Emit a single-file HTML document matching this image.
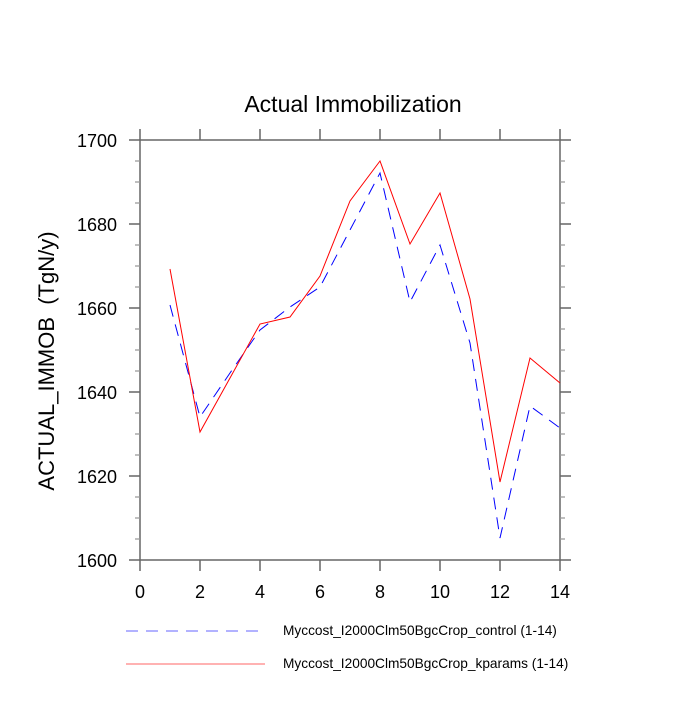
<!DOCTYPE html>
<html><head><meta charset="utf-8"><style>body{margin:0;background:#fff}</style></head><body>
<svg width="700" height="700" xmlns="http://www.w3.org/2000/svg" font-family="Liberation Sans, sans-serif">
<rect width="700" height="700" fill="#fff"/>
<text x="353" y="112" font-size="23" text-anchor="middle">Actual Immobilization</text>
<g stroke="#666" stroke-width="1.5" fill="none">
<rect x="140" y="140" width="420" height="420"/>
<path d="M140 560v11M200 560v11M260 560v11M320 560v11M380 560v11M440 560v11M500 560v11M560 560v11
M140 140v-11M200 140v-11M260 140v-11M320 140v-11M380 140v-11M440 140v-11M500 140v-11M560 140v-11
M140 140h-11M140 224h-11M140 308h-11M140 392h-11M140 476h-11M140 560h-11
M560 140h11M560 224h11M560 308h11M560 392h11M560 476h11M560 560h11"/>
</g>
<g stroke="#999" stroke-width="1.2">
<path d="M140 161h-5M140 182h-5M140 203h-5M140 245h-5M140 266h-5M140 287h-5M140 329h-5M140 350h-5M140 371h-5M140 413h-5M140 434h-5M140 455h-5M140 497h-5M140 518h-5M140 539h-5
M560 161h5M560 182h5M560 203h5M560 245h5M560 266h5M560 287h5M560 329h5M560 350h5M560 371h5M560 413h5M560 434h5M560 455h5M560 497h5M560 518h5M560 539h5"/>
</g>
<g font-size="18" text-anchor="middle">
<text x="140" y="598">0</text><text x="200" y="598">2</text><text x="260" y="598">4</text><text x="320" y="598">6</text><text x="380" y="598">8</text><text x="440" y="598">10</text><text x="500" y="598">12</text><text x="560" y="598">14</text>
</g>
<g font-size="18" text-anchor="end">
<text x="117" y="147">1700</text><text x="117" y="231">1680</text><text x="117" y="315">1660</text><text x="117" y="399">1640</text><text x="117" y="483">1620</text><text x="117" y="567">1600</text>
</g>
<text transform="translate(54,361) rotate(-90)" font-size="22" text-anchor="middle" style="white-space:pre" xml:space="preserve">ACTUAL_IMMOB  (TgN/y)</text>
<polyline fill="none" stroke="#00f" stroke-width="1" stroke-dasharray="12 8" points="170,305 200,417 230,373 260,330 290,307 320,287 350,230 380,173 410,302 440,245 470,343 500,538 530,406 560,428"/>
<polyline fill="none" stroke="#f00" stroke-width="1" points="170,269 200,432 230,378 260,324 290,317 320,276 350,201 380,161 410,244 440,193 470,299 500,482 530,358 560,383"/>
<line x1="126" y1="631" x2="265" y2="631" stroke="#00f" stroke-dasharray="12 8" stroke-opacity="0.6"/>
<line x1="126" y1="664" x2="265" y2="664" stroke="#f00" stroke-opacity="0.6"/>
<text x="283" y="635" font-size="13.7">Myccost_I2000Clm50BgcCrop_control (1-14)</text>
<text x="283" y="668" font-size="13.7">Myccost_I2000Clm50BgcCrop_kparams (1-14)</text>
</svg>
</body></html>
